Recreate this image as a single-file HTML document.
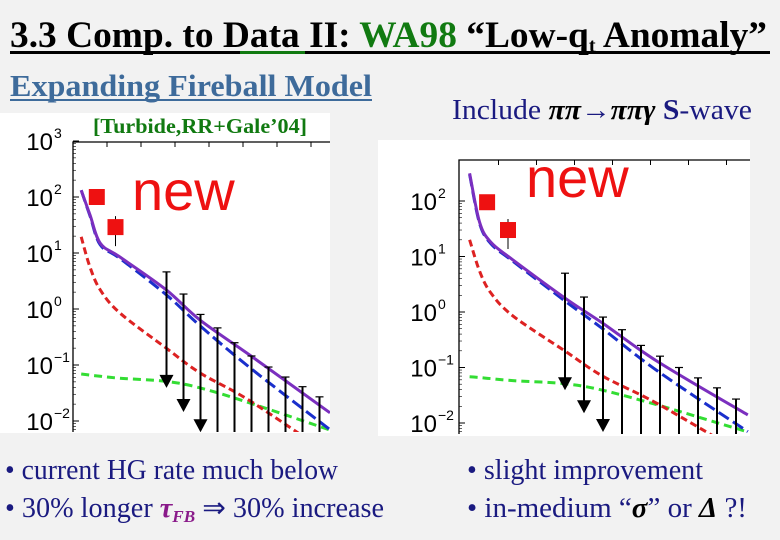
<!DOCTYPE html>
<html><head><meta charset="utf-8">
<style>
html,body{margin:0;padding:0;background:#f2f2f2;}
svg{display:block;}
.serif{font-family:"Liberation Serif",serif;}
.sans{font-family:"Liberation Sans",sans-serif;}
</style></head>
<body>
<svg id="page" width="780" height="540" viewBox="0 0 780 540" xmlns="http://www.w3.org/2000/svg">
  <rect x="0" y="0" width="780" height="540" fill="#f2f2f2"/>
  <g>
    <text class="serif" x="10" y="47" font-size="37" font-weight="bold" fill="#000" textLength="757" lengthAdjust="spacingAndGlyphs">3.3 Comp. to Data II:  <tspan fill="#117a11">WA98</tspan>  “Low-q<tspan font-size="20" dy="5">t</tspan><tspan dy="-5"> Anomaly”</tspan></text>
    <rect x="10" y="51" width="760" height="3" fill="#000"/>
    <rect x="240" y="51" width="65" height="3" fill="#117a11"/>
  </g>
  <g>
    <text class="serif" x="10" y="96" font-size="31" font-weight="bold" fill="#3e6b9b" textLength="362" lengthAdjust="spacingAndGlyphs">Expanding Fireball Model</text>
    <rect x="10" y="99" width="362" height="2" fill="#3e6b9b"/>
  </g>
  <text class="serif" x="452" y="119" font-size="28" fill="#1a1a80" textLength="300" lengthAdjust="spacingAndGlyphs">Include <tspan font-weight="bold" font-style="italic" fill="#000">ππ</tspan>→<tspan font-weight="bold" font-style="italic" fill="#000">ππγ</tspan> <tspan font-weight="bold">S</tspan>-wave</text>

  <rect x="0" y="113" width="330" height="320" fill="#fff"/>
  <rect x="378" y="140" width="372" height="296" fill="#fff"/>
  <text class="serif" x="93" y="133" font-size="21" font-weight="bold" fill="#117a11" textLength="214" lengthAdjust="spacingAndGlyphs">[Turbide,RR+Gale’04]</text>
  <g id="left-chart"></g>
  <g id="right-chart"></g>

  <g class="serif" fill="#1a1a80" font-size="28">
    <text x="5" y="479" textLength="333" lengthAdjust="spacingAndGlyphs">• current HG rate much below</text>
    <text x="5" y="517" textLength="379" lengthAdjust="spacingAndGlyphs">• 30% longer <tspan fill="#8a1a8a" font-weight="bold" font-style="italic">τ<tspan font-size="17" dy="5">FB</tspan></tspan><tspan dy="-5"> ⇒ 30% increase</tspan></text>
  </g>
  <g class="serif" fill="#1a1a80" font-size="28">
    <text x="467" y="479" textLength="236" lengthAdjust="spacingAndGlyphs">• slight improvement</text>
    <text x="467" y="517" textLength="280" lengthAdjust="spacingAndGlyphs">• in-medium “<tspan fill="#000" font-weight="bold" font-style="italic">σ</tspan>” or <tspan fill="#000" font-weight="bold" font-style="italic">Δ</tspan> ?!</text>
  </g>
</svg>
<script>
const dataQ = [0.07, 0.125];
const leftDataVals = [100, 29];
const rightDataVals = [95, 30];
const arrowQ = [0.275, 0.325, 0.375, 0.425, 0.475, 0.525, 0.575, 0.625, 0.675, 0.725];
const leftArrowTops = [4.6, 1.85, 0.8, 0.46, 0.25, 0.145, 0.092, 0.061, 0.041, 0.027];
const leftArrowTips = [0.039, 0.0145, 0.0063, 0.003, 0.003, 0.003, 0.003, 0.003, 0.003, 0.003];
const rightArrowTops = [5.0, 1.86, 0.81, 0.48, 0.25, 0.16, 0.1, 0.065, 0.043, 0.027];
const rightArrowTips = [0.039, 0.015, 0.0069, 0.003, 0.003, 0.003, 0.003, 0.003, 0.003, 0.003];
const curveQ = [0.024, 0.05, 0.08, 0.138, 0.274, 0.374, 0.52, 0.756];
const leftPurple = [132, 48, 15, 8.5, 2.2, 0.63, 0.15, 0.014];
const leftBlue = [132, 46, 14, 8, 1.8, 0.5, 0.09, 0.007];
const leftRed = [19.5, 5.6, 2.2, 0.85, 0.2, 0.072, 0.023, 0.0025];
const leftGreen = [0.069, 0.066, 0.063, 0.058, 0.051, 0.039, 0.021, 0.0069];
const rightPurple = [316, 42, 18, 8.7, 1.8, 0.63, 0.126, 0.014];
const rightBlue = [300, 40, 17, 8.2, 1.6, 0.5, 0.085, 0.007];
const rightRed = [20, 5.5, 2.2, 0.85, 0.2, 0.07, 0.022, 0.0025];
const rightGreen = [0.068, 0.066, 0.063, 0.058, 0.051, 0.039, 0.021, 0.0069];
const leftTickExp = [3, 2, 1, 0, -1, -2];
const rightTickExp = [2, 1, 0, -1, -2];

const NS = "http://www.w3.org/2000/svg";
function mk(tag, attrs, parent) {
  const e = document.createElementNS(NS, tag);
  for (const k in attrs) e.setAttribute(k, attrs[k]);
  parent.appendChild(e);
  return e;
}
function smoothPath(pts) {
  let d = "M" + pts[0][0].toFixed(1) + "," + pts[0][1].toFixed(1);
  for (let i = 0; i < pts.length - 1; i++) {
    const p0 = pts[Math.max(0, i - 1)], p1 = pts[i], p2 = pts[i + 1], p3 = pts[Math.min(pts.length - 1, i + 2)];
    const c1x = p1[0] + (p2[0] - p0[0]) / 6, c1y = p1[1] + (p2[1] - p0[1]) / 6;
    const c2x = p2[0] - (p3[0] - p1[0]) / 6, c2y = p2[1] - (p3[1] - p1[1]) / 6;
    d += " C" + c1x.toFixed(1) + "," + c1y.toFixed(1) + " " + c2x.toFixed(1) + "," + c2y.toFixed(1) + " " + p2[0].toFixed(1) + "," + p2[1].toFixed(1);
  }
  return d;
}
function drawPanel(g, cfg) {
  const xs = q => cfg.x0 + cfg.pxPerQ * q;
  const ys = v => cfg.y0 - cfg.pxPerDec * Math.log10(v);
  const defs = mk("defs", {}, g);
  const cp = mk("clipPath", {id: cfg.id + "-clip"}, defs);
  mk("rect", {x: cfg.left, y: cfg.top, width: cfg.right - cfg.left, height: cfg.bottom - cfg.top}, cp);

  const frame = mk("path", {d: "M" + cfg.left + "," + cfg.bottom + " V" + cfg.top + " H" + cfg.right, fill: "none", stroke: "#000", "stroke-width": 1.3}, g);
  
  

  cfg.ticks.forEach(ex => {
    const y = ys(Math.pow(10, ex));
    const t = mk("line", {x1: cfg.left, x2: cfg.left + 6, y1: y, y2: y, stroke: "#000", "stroke-width": 1}, g);
    
    
    for (let m = 2; m < 10; m++) {
      const ym = ys(m * Math.pow(10, ex - 1));
      if (ym < cfg.bottom && ym > cfg.top) mk("line", {x1: cfg.left, x2: cfg.left + 3, y1: ym, y2: ym, stroke: "#000", "stroke-width": 0.6}, g);
    }
    const lab = mk("text", {x: cfg.labelX, y: y + 9, "font-size": 24, class: "sans", fill: "#000", "text-anchor": "end"}, g);
    
    
    lab.textContent = "10";
    const sup = mk("text", {x: cfg.labelX + 1, y: y - 3, "font-size": 14, class: "sans", fill: "#000"}, g);
    
    
    sup.textContent = ex < 0 ? "\u2212" + (-ex) : String(ex);
  });
  for (let i = 1; i < 8; i++) {
    const x = xs(i * 0.1);
    if (x < cfg.right) mk("line", {x1: x, x2: x, y1: cfg.top, y2: cfg.top + 5, stroke: "#000", "stroke-width": 1}, g);
  }

  const nw = mk("text", {x: cfg.newX, y: cfg.newY, "font-size": 56, class: "sans", fill: "#ee1111"}, g);
  
  
  nw.textContent = "new";

  const cg = mk("g", {"clip-path": "url(#" + cfg.id + "-clip)"}, g);
  const series = [
    {vals: cfg.green, color: "#33dd33", dash: "8,5", name: "green-curve"},
    {vals: cfg.red, color: "#dd2222", dash: "7,4", name: "red-curve"},
    {vals: cfg.blue, color: "#1a2fcc", dash: "12,5", name: "blue-curve"},
    {vals: cfg.purple, color: "#7b2fbf", dash: "none", name: "purple-curve"}
  ];
  series.forEach(s => {
    const pts = curveQ.map((q, i) => [xs(q), ys(s.vals[i])]);
    const p = mk("path", {d: smoothPath(pts), fill: "none", stroke: s.color, "stroke-width": 3, "stroke-dasharray": s.dash}, cg);
    
    
  });

  arrowQ.forEach((q, i) => {
    const x = xs(q), yt = ys(cfg.tops[i]), yb = ys(cfg.tips[i]);
    const ar = mk("g", {}, cg);
    
    
    mk("line", {x1: x, x2: x, y1: yt, y2: yb - 8, stroke: "#000", "stroke-width": 2}, ar);
    mk("line", {x1: x - 4, x2: x + 4, y1: yt, y2: yt, stroke: "#000", "stroke-width": 1.2}, ar);
    mk("path", {d: "M" + (x - 7) + "," + (yb - 13) + " L" + (x + 7) + "," + (yb - 13) + " L" + x + "," + yb + " Z", fill: "#000"}, ar);
  });

  dataQ.forEach((q, i) => {
    const x = xs(q), y = ys(cfg.dataVals[i]);
    const pt = mk("g", {}, g);
    
    
    if (i === 1) mk("line", {x1: x, x2: x, y1: y - 11, y2: y + 19, stroke: "#000", "stroke-width": 1}, pt);
    mk("rect", {x: x - 8, y: y - 8, width: 16, height: 16, fill: "#ee1111"}, pt);
  });
}
drawPanel(document.getElementById("left-chart"), {
  id: "lc", x0: 73, pxPerQ: 340, y0: 309, pxPerDec: 56,
  left: 73, right: 330, top: 142, bottom: 432, labelX: 53,
  ticks: leftTickExp, newX: 132, newY: 210,
  purple: leftPurple, blue: leftBlue, red: leftRed, green: leftGreen,
  tops: leftArrowTops, tips: leftArrowTips, dataVals: leftDataVals
});
drawPanel(document.getElementById("right-chart"), {
  id: "rc", x0: 460.5, pxPerQ: 380, y0: 312, pxPerDec: 55.5,
  left: 459, right: 750, top: 160, bottom: 434, labelX: 437,
  ticks: rightTickExp, newX: 526, newY: 197,
  purple: rightPurple, blue: rightBlue, red: rightRed, green: rightGreen,
  tops: rightArrowTops, tips: rightArrowTips, dataVals: rightDataVals
});
</script>
</body></html>
